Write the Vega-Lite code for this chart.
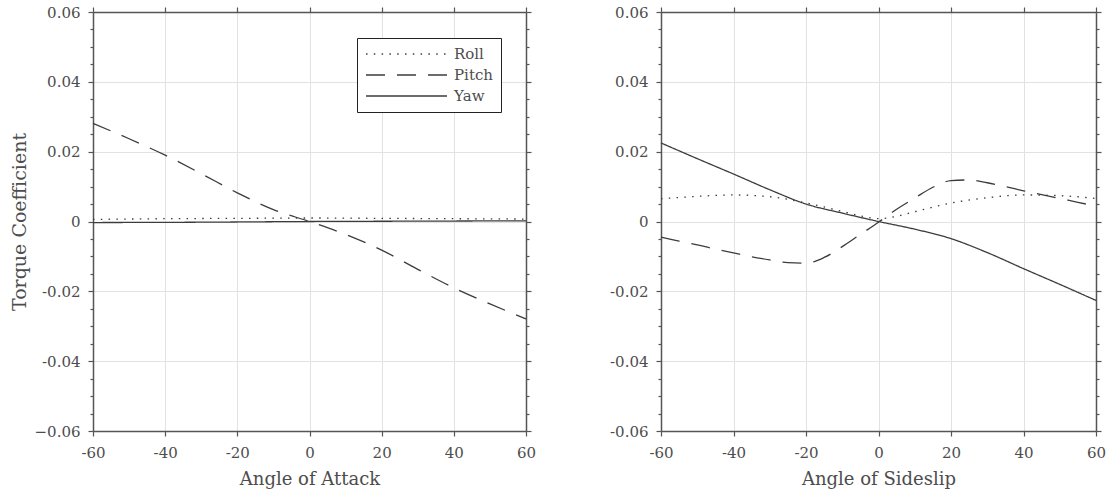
{
  "$schema": "https://vega.github.io/schema/vega-lite/v6.json",
  "background": "white",
  "padding": {"left": 10, "top": 5, "right": 4, "bottom": 2},
  "config": {
    "font": "DejaVu Serif",
    "view": {"stroke": null},
    "axis": {
      "labelFont": "DejaVu Serif", "labelFontSize": 15, "labelColor": "#4d4d4d",
      "titleFont": "DejaVu Serif", "titleFontSize": 18, "titleFontWeight": "normal", "titleColor": "#4d4d4d",
      "domainColor": "#555555", "domainWidth": 1.5, "tickColor": "#555555", "tickWidth": 1.2,
      "gridColor": "#e2e2e2", "gridWidth": 1, "labelOverlap": false, "labelFlush": false
    }
  },
  "datasets": {
    "attack": [
      {"series": "Roll", "angle": -60, "value": 0.0006},
      {"series": "Roll", "angle": -40, "value": 0.0008},
      {"series": "Roll", "angle": -20, "value": 0.0009},
      {"series": "Roll", "angle": 0, "value": 0.001},
      {"series": "Roll", "angle": 20, "value": 0.0009},
      {"series": "Roll", "angle": 40, "value": 0.0008},
      {"series": "Roll", "angle": 60, "value": 0.0007},
      {"series": "Pitch", "angle": -60, "value": 0.0281},
      {"series": "Pitch", "angle": -50, "value": 0.0237},
      {"series": "Pitch", "angle": -40, "value": 0.0190},
      {"series": "Pitch", "angle": -30, "value": 0.0137},
      {"series": "Pitch", "angle": -20, "value": 0.0082},
      {"series": "Pitch", "angle": -10, "value": 0.0034},
      {"series": "Pitch", "angle": 0, "value": 0.0},
      {"series": "Pitch", "angle": 10, "value": -0.0037},
      {"series": "Pitch", "angle": 20, "value": -0.0082},
      {"series": "Pitch", "angle": 30, "value": -0.0137},
      {"series": "Pitch", "angle": 40, "value": -0.0190},
      {"series": "Pitch", "angle": 50, "value": -0.0236},
      {"series": "Pitch", "angle": 60, "value": -0.0279},
      {"series": "Yaw", "angle": -60, "value": -0.0003},
      {"series": "Yaw", "angle": -30, "value": -0.0002},
      {"series": "Yaw", "angle": 0, "value": 0.0},
      {"series": "Yaw", "angle": 30, "value": 0.0001},
      {"series": "Yaw", "angle": 60, "value": 0.0002}
    ],
    "sideslip": [
      {"series": "Roll", "angle": -60, "value": 0.0065},
      {"series": "Roll", "angle": -50, "value": 0.0072},
      {"series": "Roll", "angle": -40, "value": 0.0076},
      {"series": "Roll", "angle": -30, "value": 0.0071},
      {"series": "Roll", "angle": -20, "value": 0.0053},
      {"series": "Roll", "angle": -10, "value": 0.0029},
      {"series": "Roll", "angle": -5, "value": 0.0016},
      {"series": "Roll", "angle": 0, "value": 0.0008},
      {"series": "Roll", "angle": 5, "value": 0.0015},
      {"series": "Roll", "angle": 10, "value": 0.0028},
      {"series": "Roll", "angle": 20, "value": 0.0053},
      {"series": "Roll", "angle": 30, "value": 0.0068},
      {"series": "Roll", "angle": 40, "value": 0.0076},
      {"series": "Roll", "angle": 50, "value": 0.0074},
      {"series": "Roll", "angle": 60, "value": 0.0066},
      {"series": "Pitch", "angle": -60, "value": -0.0045},
      {"series": "Pitch", "angle": -55, "value": -0.0056},
      {"series": "Pitch", "angle": -50, "value": -0.0067},
      {"series": "Pitch", "angle": -45, "value": -0.0079},
      {"series": "Pitch", "angle": -40, "value": -0.0090},
      {"series": "Pitch", "angle": -35, "value": -0.0101},
      {"series": "Pitch", "angle": -30, "value": -0.0110},
      {"series": "Pitch", "angle": -25, "value": -0.0118},
      {"series": "Pitch", "angle": -20, "value": -0.0119},
      {"series": "Pitch", "angle": -15, "value": -0.0103},
      {"series": "Pitch", "angle": -10, "value": -0.0072},
      {"series": "Pitch", "angle": -5, "value": -0.0037},
      {"series": "Pitch", "angle": 0, "value": -0.0002},
      {"series": "Pitch", "angle": 5, "value": 0.0035},
      {"series": "Pitch", "angle": 10, "value": 0.0067},
      {"series": "Pitch", "angle": 15, "value": 0.0098},
      {"series": "Pitch", "angle": 20, "value": 0.0117},
      {"series": "Pitch", "angle": 25, "value": 0.0119},
      {"series": "Pitch", "angle": 30, "value": 0.0111},
      {"series": "Pitch", "angle": 35, "value": 0.0100},
      {"series": "Pitch", "angle": 40, "value": 0.0088},
      {"series": "Pitch", "angle": 45, "value": 0.0077},
      {"series": "Pitch", "angle": 50, "value": 0.0066},
      {"series": "Pitch", "angle": 55, "value": 0.0055},
      {"series": "Pitch", "angle": 60, "value": 0.0044},
      {"series": "Yaw", "angle": -60, "value": 0.0225},
      {"series": "Yaw", "angle": -50, "value": 0.0180},
      {"series": "Yaw", "angle": -40, "value": 0.0136},
      {"series": "Yaw", "angle": -30, "value": 0.0091},
      {"series": "Yaw", "angle": -20, "value": 0.0050},
      {"series": "Yaw", "angle": -10, "value": 0.0024},
      {"series": "Yaw", "angle": 0, "value": 0.0},
      {"series": "Yaw", "angle": 10, "value": -0.0022},
      {"series": "Yaw", "angle": 20, "value": -0.0049},
      {"series": "Yaw", "angle": 30, "value": -0.0089},
      {"series": "Yaw", "angle": 40, "value": -0.0135},
      {"series": "Yaw", "angle": 50, "value": -0.0180},
      {"series": "Yaw", "angle": 60, "value": -0.0226}
    ]
  },
  "bounds": "flush",
  "spacing": 135,
  "resolve": {"scale": {"strokeDash": "independent"}, "legend": {"strokeDash": "independent"}},
  "hconcat": [
    {
      "width": 433,
      "height": 419,
      "data": {"name": "attack"},
      "resolve": {"axis": {"x": "independent", "y": "independent"}},
      "layer": [
        {
          "mark": {"type": "line", "color": "#3c3c3c", "strokeWidth": 1.3, "interpolate": "monotone"},
          "encoding": {
            "x": {"field": "angle", "type": "quantitative", "scale": {"domain": [-60, 60], "nice": false},
              "axis": {"orient": "bottom", "values": [-60, -40, -20, 0, 20, 40, 60], "title": "Angle of Attack", "grid": true,
                "tickSize": 5, "labelPadding": 9, "titlePadding": 10, "labelExpr": "'' + datum.value"}},
            "y": {"field": "value", "type": "quantitative", "scale": {"domain": [-0.06, 0.06], "nice": false},
              "axis": {"orient": "left", "title": "Torque Coefficient", "titleFontSize": 19, "titlePadding": 5, "labelPadding": 8, "tickSize": 5, "grid": true,
                "values": [-0.06, -0.055, -0.05, -0.045, -0.04, -0.035, -0.03, -0.025, -0.02, -0.015, -0.01, -0.005, 0, 0.005, 0.01, 0.015, 0.02, 0.025, 0.03, 0.035, 0.04, 0.045, 0.05, 0.055, 0.06],
                "tickDash": {"condition": {"test": "abs(round(datum.value*200)) % 4 != 0", "value": [3, 10]}, "value": [10, 0]},
                "gridOpacity": {"condition": {"test": "abs(round(datum.value*200)) % 4 != 0", "value": 0}, "value": 1},
                "labelExpr": "abs(round(datum.value*200)) % 4 == 0 ? (datum.value == -0.06 ? '\u22120.06' : '' + datum.value) : ''"}},
            "strokeDash": {"field": "series", "type": "nominal",
              "scale": {"domain": ["Roll", "Pitch", "Yaw"], "range": [[1.5, 6.3], [19, 12], [1, 0]]},
              "legend": {"orient": "none", "legendX": 264, "legendY": 26, "title": null, "strokeColor": "#222222", "fillColor": "white",
                "padding": 8, "symbolType": "stroke", "symbolSize": 6561, "symbolStrokeWidth": 1.3, "symbolStrokeColor": "#3c3c3c",
                "clipHeight": 16, "rowPadding": 5, "labelOffset": 6, "labelFont": "DejaVu Serif", "labelFontSize": 15, "labelColor": "#4d4d4d", "cornerRadius": 0}}
          }
        },
        {
          "mark": {"type": "line", "opacity": 0},
          "encoding": {
            "x": {"field": "angle", "type": "quantitative",
              "axis": {"orient": "top", "values": [-60, -40, -20, 0, 20, 40, 60], "labels": false, "grid": false, "title": null, "tickSize": 5}},
            "y": {"field": "value", "type": "quantitative",
              "axis": {"orient": "right", "labels": false, "grid": false, "title": null, "tickSize": 5,
                "values": [-0.06, -0.055, -0.05, -0.045, -0.04, -0.035, -0.03, -0.025, -0.02, -0.015, -0.01, -0.005, 0, 0.005, 0.01, 0.015, 0.02, 0.025, 0.03, 0.035, 0.04, 0.045, 0.05, 0.055, 0.06],
                "tickDash": {"condition": {"test": "abs(round(datum.value*200)) % 4 != 0", "value": [3, 10]}, "value": [10, 0]}}},
            "detail": {"field": "series", "type": "nominal"}
          }
        }
      ]
    },
    {
      "width": 435,
      "height": 419,
      "data": {"name": "sideslip"},
      "resolve": {"axis": {"x": "independent", "y": "independent"}},
      "layer": [
        {
          "mark": {"type": "line", "color": "#3c3c3c", "strokeWidth": 1.3, "interpolate": "monotone"},
          "encoding": {
            "x": {"field": "angle", "type": "quantitative", "scale": {"domain": [-60, 60], "nice": false},
              "axis": {"orient": "bottom", "values": [-60, -40, -20, 0, 20, 40, 60], "title": "Angle of Sideslip", "grid": true,
                "tickSize": 5, "labelPadding": 9, "titlePadding": 10, "labelExpr": "'' + datum.value"}},
            "y": {"field": "value", "type": "quantitative", "scale": {"domain": [-0.06, 0.06], "nice": false},
              "axis": {"orient": "left", "title": null, "labelPadding": 8, "tickSize": 5, "grid": true,
                "values": [-0.06, -0.055, -0.05, -0.045, -0.04, -0.035, -0.03, -0.025, -0.02, -0.015, -0.01, -0.005, 0, 0.005, 0.01, 0.015, 0.02, 0.025, 0.03, 0.035, 0.04, 0.045, 0.05, 0.055, 0.06],
                "tickDash": {"condition": {"test": "abs(round(datum.value*200)) % 4 != 0", "value": [3, 10]}, "value": [10, 0]},
                "gridOpacity": {"condition": {"test": "abs(round(datum.value*200)) % 4 != 0", "value": 0}, "value": 1},
                "labelExpr": "abs(round(datum.value*200)) % 4 == 0 ? '' + datum.value : ''"}},
            "strokeDash": {"field": "series", "type": "nominal",
              "scale": {"domain": ["Roll", "Pitch", "Yaw"], "range": [[1.5, 6.3], [19, 12], [1, 0]]},
              "legend": null}
          }
        },
        {
          "mark": {"type": "line", "opacity": 0},
          "encoding": {
            "x": {"field": "angle", "type": "quantitative",
              "axis": {"orient": "top", "values": [-60, -40, -20, 0, 20, 40, 60], "labels": false, "grid": false, "title": null, "tickSize": 5}},
            "y": {"field": "value", "type": "quantitative",
              "axis": {"orient": "right", "labels": false, "grid": false, "title": null, "tickSize": 5,
                "values": [-0.06, -0.055, -0.05, -0.045, -0.04, -0.035, -0.03, -0.025, -0.02, -0.015, -0.01, -0.005, 0, 0.005, 0.01, 0.015, 0.02, 0.025, 0.03, 0.035, 0.04, 0.045, 0.05, 0.055, 0.06],
                "tickDash": {"condition": {"test": "abs(round(datum.value*200)) % 4 != 0", "value": [3, 10]}, "value": [10, 0]}}},
            "detail": {"field": "series", "type": "nominal"}
          }
        }
      ]
    }
  ]
}
